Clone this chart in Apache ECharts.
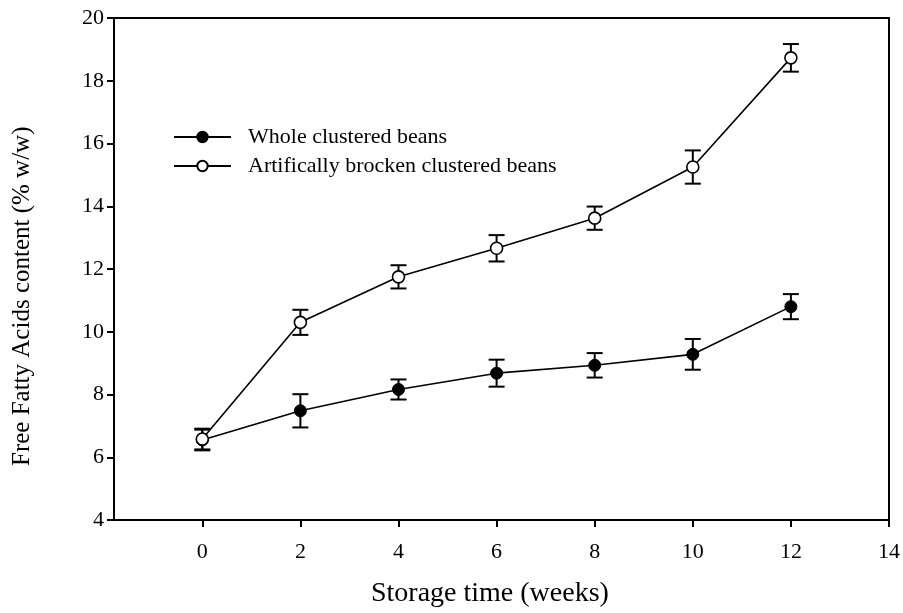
<!DOCTYPE html>
<html>
<head>
<meta charset="utf-8">
<script src="https://cdn.jsdelivr.net/npm/echarts@6/dist/echarts.min.js"></script>
<style>html,body{margin:0;padding:0;background:#fff}#c{width:903px;height:613px}</style>
</head>
<body>
<div id="c"></div>
<script>
const weeks = [0, 2, 4, 6, 8, 10, 12];
const wholeMean = [6.55, 7.48, 8.16, 8.68, 8.93, 9.28, 10.80];
const wholeErr = [0.33, 0.53, 0.32, 0.43, 0.39, 0.49, 0.40];
const brokenMean = [6.58, 10.30, 11.75, 12.66, 13.62, 15.25, 18.73];
const brokenErr = [0.33, 0.40, 0.37, 0.42, 0.37, 0.53, 0.44];
const xTickValues = [0, 2, 4, 6, 8, 10, 12, 14];
const seriesNames = ['Whole clustered beans', 'Artifically brocken clustered beans'];
const xTitle = 'Storage time (weeks)';
const yTitle = 'Free Fatty Acids content (% w/w)';

const FONT = '"Liberation Serif", "Times New Roman", serif';

function errData(mean, err) {
  return weeks.map((w, i) => [w, mean[i] - err[i], mean[i] + err[i]]);
}
function renderErr(params, api) {
  const x = api.value(0);
  const lo = api.coord([x, api.value(1)]);
  const hi = api.coord([x, api.value(2)]);
  const half = 8;
  const st = { stroke: '#000', lineWidth: 2 };
  return {
    type: 'group',
    children: [
      { type: 'line', shape: { x1: lo[0], y1: lo[1], x2: hi[0], y2: hi[1] }, style: st },
      { type: 'line', shape: { x1: hi[0] - half, y1: hi[1], x2: hi[0] + half, y2: hi[1] }, style: st },
      { type: 'line', shape: { x1: lo[0] - half, y1: lo[1], x2: lo[0] + half, y2: lo[1] }, style: st }
    ]
  };
}

const chart = echarts.init(document.getElementById('c'), null, { renderer: 'canvas' });
chart.setOption({
  animation: false,
  backgroundColor: '#fff',
  textStyle: { fontFamily: FONT, color: '#000' },
  grid: { left: 114, right: 13, top: 18, bottom: 93, show: true, borderColor: '#000', borderWidth: 2, backgroundColor: 'transparent' },
  legend: {
    orient: 'vertical',
    left: 168, top: 121,
    itemWidth: 57, itemHeight: 13, itemGap: 7,
    textStyle: { fontFamily: FONT, fontSize: 22, color: '#000', padding: [0, 0, 0, 12] },
    data: seriesNames
  },
  xAxis: {
    type: 'value', min: -1.8, max: 14,
    axisLine: { onZero: false, lineStyle: { color: '#000', width: 2 } },
    axisTick: { show: true, length: 7, lineStyle: { color: '#000', width: 2 }, customValues: xTickValues },
    axisLabel: { color: '#000', fontFamily: FONT, fontSize: 22, margin: 21, customValues: xTickValues },
    splitLine: { show: false }
  },
  yAxis: {
    type: 'value', min: 4, max: 20, interval: 2,
    axisLine: { show: true, onZero: false, lineStyle: { color: '#000', width: 2 } },
    axisTick: { show: true, length: 7, lineStyle: { color: '#000', width: 2 } },
    axisLabel: { color: '#000', fontFamily: FONT, fontSize: 22, margin: 10 },
    splitLine: { show: false }
  },
  graphic: [
    { type: 'text', left: 371, top: 580, style: { text: xTitle, font: '28px ' + FONT, fill: '#000' } },
    { type: 'text', rotation: Math.PI / 2, x: 10, y: 466, style: { text: yTitle, font: '25px ' + FONT, fill: '#000', textAlign: 'left', textVerticalAlign: 'top' } }
  ],
  series: [
    { type: 'custom', name: 'errWhole', renderItem: renderErr, data: errData(wholeMean, wholeErr), z: 1, silent: true },
    { type: 'custom', name: 'errBroken', renderItem: renderErr, data: errData(brokenMean, brokenErr), z: 1, silent: true },
    {
      type: 'line', name: seriesNames[0], z: 3,
      data: weeks.map((w, i) => [w, wholeMean[i]]),
      symbol: 'circle', symbolSize: 12,
      lineStyle: { color: '#000', width: 1.6 },
      itemStyle: { color: '#000', borderColor: '#000', borderWidth: 1 }
    },
    {
      type: 'line', name: seriesNames[1], z: 3,
      data: weeks.map((w, i) => [w, brokenMean[i]]),
      symbol: 'circle', symbolSize: 12,
      lineStyle: { color: '#000', width: 1.6 },
      itemStyle: { color: '#fff', borderColor: '#000', borderWidth: 1.6 }
    }
  ]
});
</script>
</body>
</html>
